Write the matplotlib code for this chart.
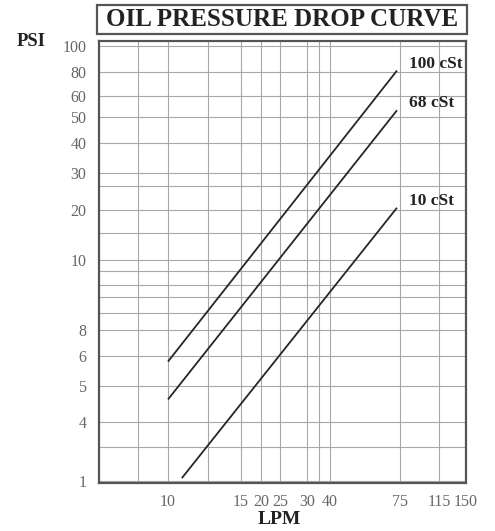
import numpy as np
import matplotlib
matplotlib.use("Agg")
import matplotlib.pyplot as plt
from matplotlib.ticker import FixedLocator, NullFormatter
from matplotlib.patches import Rectangle

# ---- data -------------------------------------------------------------
viscosity_labels = ["100 cSt", "68 cSt", "10 cSt"]
flow_lpm = [[10, 73], [10, 73], [10.8, 73]]
drop_psi = [[5.8, 81], [4.6, 53], [1.07, 20.5]]

x_ticks = [10, 15, 20, 25, 30, 40, 75, 115, 150]
y_ticks = [1, 4, 5, 6, 8, 10, 20, 30, 40, 50, 60, 80, 100]

# ---- chart's (hand-drawn) log-like axis scales -------------------------
x_scale_vals = [6, 10, 15, 20, 25, 30, 40, 75, 115, 150]
x_scale_pos = [0, 69, 142, 162, 181, 208, 231, 301, 340, 367]
y_scale_vals = [0.95, 1, 4, 5, 6, 8, 10, 20, 30, 40, 50, 60, 80, 100, 110]
y_scale_pos = [0, 2, 61, 97, 127, 153, 223, 273, 310, 340, 366, 387, 411, 437, 442]

x_minor_grid = [8, 12.5, 35]
y_minor_grid = [2.22, 8.45, 8.89, 9.23, 9.66, 14.5, 26]


def piecewise_log(vals, pos):
    lv = np.log10(np.asarray(vals, float))
    pv = np.asarray(pos, float)

    def fwd(v):
        with np.errstate(divide="ignore", invalid="ignore"):
            return np.interp(np.log10(np.asarray(v, float)), lv, pv)

    def inv(p):
        return 10 ** np.interp(np.asarray(p, float), pv, lv)

    return fwd, inv


SERIF = ["Liberation Serif", "DejaVu Serif"]
plt.rcParams["font.family"] = SERIF

fig = plt.figure(figsize=(4.95, 5.31), dpi=100)
ax = fig.add_axes([99 / 495, 1 - 483 / 531, 367 / 495, 442 / 531])

ax.set_xscale("function", functions=piecewise_log(x_scale_vals, x_scale_pos))
ax.set_yscale("function", functions=piecewise_log(y_scale_vals, y_scale_pos))
ax.set_xlim(x_scale_vals[0], x_scale_vals[-1])
ax.set_ylim(y_scale_vals[0], y_scale_vals[-1])

ax.xaxis.set_major_locator(FixedLocator(x_ticks))
ax.xaxis.set_minor_locator(FixedLocator(x_minor_grid))
ax.yaxis.set_major_locator(FixedLocator(y_ticks))
ax.yaxis.set_minor_locator(FixedLocator(y_minor_grid))
ax.set_xticklabels([str(t) for t in x_ticks])
ax.set_yticklabels([str(t) for t in y_ticks])
ax.xaxis.set_minor_formatter(NullFormatter())
ax.yaxis.set_minor_formatter(NullFormatter())

ax.grid(True, which="both", color="#a8a8a8", linewidth=0.8)
ax.set_axisbelow(True)
ax.tick_params(which="both", length=0)
ax.tick_params(axis="x", pad=8, labelsize=11.5, labelcolor="#666666")
ax.tick_params(axis="y", pad=9, labelsize=11.5, labelcolor="#666666")

for sp in ax.spines.values():
    sp.set_color("#555555")
    sp.set_linewidth(1.6)

for name, xs, ys in zip(viscosity_labels, flow_lpm, drop_psi):
    ax.plot(xs, ys, color="#262626", linewidth=1.3, solid_capstyle="butt")
    ax.annotate(name, xy=(xs[-1], ys[-1]), xytext=(9, 5),
                textcoords="offset points", ha="left", va="center",
                fontsize=12.5, fontweight="bold", color="#222222",
                annotation_clip=False)

# axis captions
fig.text(17 / 495, 1 - 42 / 531, "PSI", ha="left", va="center",
         fontsize=13.5, fontweight="bold", color="#222222")
fig.text(279 / 495, 1 - 520 / 531, "LPM", ha="center", va="center",
         fontsize=14, fontweight="bold", color="#222222")

# boxed title
fig.add_artist(Rectangle((97 / 495, 1 - 34 / 531), 370 / 495, 29 / 531,
                         transform=fig.transFigure, fill=False,
                         edgecolor="#555555", linewidth=1.6))
fig.text(282 / 495, 1 - 20 / 531, "OIL PRESSURE DROP CURVE", ha="center",
         va="center", fontsize=18, fontweight="bold", color="#222222")

fig.savefig("out.png", dpi=100)
